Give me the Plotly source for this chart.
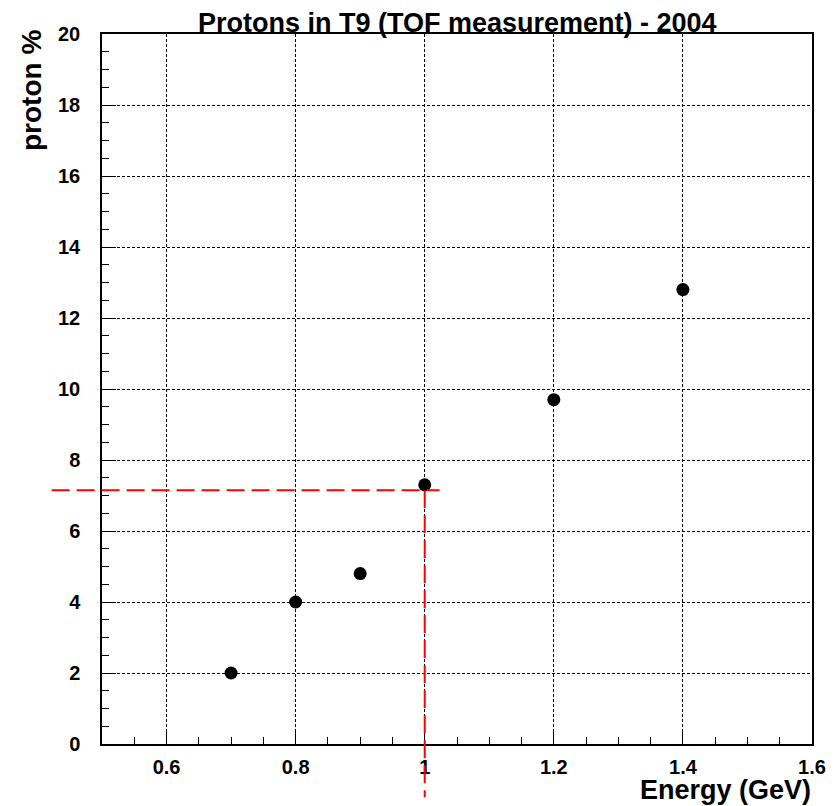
import plotly.graph_objects as go

# ---- data ----
energy = [0.7, 0.8, 0.9, 1.0, 1.2, 1.4]
proton_pct = [2.0, 4.0, 4.8, 7.3, 9.7, 12.8]

x_tickvals = [0.6, 0.8, 1.0, 1.2, 1.4, 1.6]
x_ticktext = ["0.6", "0.8", "1", "1.2", "1.4", "1.6"]
y_tickvals = [0, 2, 4, 6, 8, 10, 12, 14, 16, 18, 20]
y_ticktext = ["0", "2", "4", "6", "8", "10", "12", "14", "16", "18", "20"]

x_range = [0.5, 1.6]
y_range = [0, 20]

# reference (red dashed) cross-hair
ref_x = 1.0
ref_y = 7.15
ref_h_start_paper = -0.071   # horizontal line left end (outside plot)
ref_h_end_x = 1.023          # horizontal line right end (data)
ref_v_end_paper = -0.075     # vertical line bottom end (outside plot)

title_text = "Protons in T9 (TOF measurement) - 2004"
xlabel = "Energy (GeV)"
ylabel = "proton %"

FONT = "Liberation Sans"


def xp(v):
    return (v - x_range[0]) / (x_range[1] - x_range[0])


def yp(v):
    return (v - y_range[0]) / (y_range[1] - y_range[0])


fig = go.Figure()
fig.add_trace(go.Scatter(
    x=energy, y=proton_pct, mode="markers",
    marker=dict(color="black", size=13, symbol="circle"),
    showlegend=False, cliponaxis=False,
))

axis_common = dict(
    showline=True, linecolor="black", linewidth=1.5, mirror=True,
    ticks="inside", ticklen=14, tickwidth=1.2, tickcolor="black",
    showgrid=True, gridcolor="black", gridwidth=1, griddash="3px,2px",
    zeroline=False,
    tickfont=dict(family=FONT, size=20, color="black", weight="bold"),
    tickmode="array",
)

fig.update_xaxes(
    range=x_range, tickvals=x_tickvals, ticktext=x_ticktext,
    minor=dict(dtick=0.05, tick0=0.5, ticks="inside", ticklen=7,
               tickwidth=1.2, tickcolor="black", showgrid=False),
    ticklabelstandoff=4,
    **axis_common,
)
fig.update_yaxes(
    range=y_range, tickvals=y_tickvals, ticktext=y_ticktext,
    minor=dict(dtick=0.5, tick0=0, ticks="inside", ticklen=7,
               tickwidth=1.2, tickcolor="black", showgrid=False),
    ticklabelstandoff=16,
    **axis_common,
)

red_line = dict(color="#ff0000", width=2, dash="18px,7px")
fig.add_shape(type="line", xref="paper", yref="paper",
              x0=ref_h_start_paper, x1=xp(ref_h_end_x),
              y0=yp(ref_y), y1=yp(ref_y), line=red_line, layer="above")
fig.add_shape(type="line", xref="paper", yref="paper",
              x0=xp(ref_x), x1=xp(ref_x),
              y0=yp(ref_y), y1=ref_v_end_paper, line=red_line, layer="above")

fig.add_annotation(text=title_text, xref="paper", yref="paper",
                   x=0.5, y=1, xanchor="center", yanchor="bottom", yshift=-6,
                   showarrow=False,
                   font=dict(family=FONT, size=27, color="black", weight="bold"))
fig.add_annotation(text=xlabel, xref="paper", yref="paper",
                   x=1, y=0, xanchor="right", yanchor="top", yshift=-30,
                   borderpad=0,
                   showarrow=False,
                   font=dict(family=FONT, size=27, color="black", weight="bold"))
fig.add_annotation(text=ylabel, xref="paper", yref="paper",
                   x=0, y=1, xanchor="right", yanchor="top", xshift=-53,
                   yshift=6,
                   textangle=-90, showarrow=False,
                   font=dict(family=FONT, size=28, color="black", weight="bold"))

fig.update_layout(
    width=839, height=806,
    margin=dict(l=102, r=27, t=34, b=62),
    plot_bgcolor="white", paper_bgcolor="white",
)

fig.write_html("out.html",
               config={"displayModeBar": False},
               post_script="document.body.style.margin='0';"
                           "document.body.style.overflow='hidden';")
